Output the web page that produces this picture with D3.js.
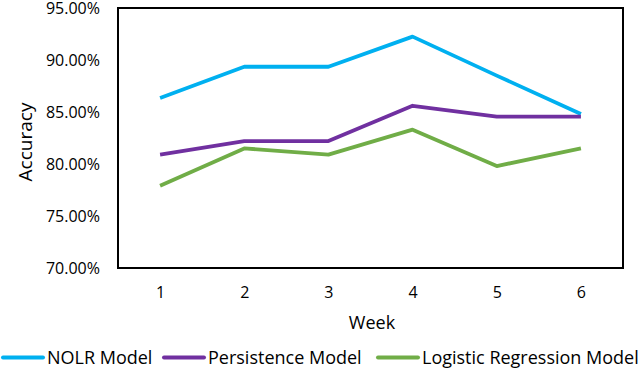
<!DOCTYPE html>
<html><head><meta charset="utf-8">
<script src="https://cdn.jsdelivr.net/npm/d3@7"></script>
<style>body{margin:0;background:#fff}svg{display:block}text{font-family:"Open Sans",sans-serif;fill:#000}</style>
</head><body><svg id="c" width="640" height="369"></svg>
<script>
const weeks = ["1","2","3","4","5","6"];
const nolr = [86.35, 89.35, 89.35, 92.25, 88.5, 84.8];
const persistence = [80.9, 82.2, 82.2, 85.6, 84.55, 84.55];
const logistic = [77.9, 81.5, 80.9, 83.3, 79.8, 81.5];
const yTicks = [70, 75, 80, 85, 90, 95];
const seriesNames = ["NOLR Model", "Persistence Model", "Logistic Regression Model"];
const seriesColors = ["#00B0F0", "#7030A0", "#70AD47"];

const svg = d3.select("#c");
const L = 118, R = 623, T = 8, B = 268;
const x = d3.scalePoint().domain(weeks).range([L, R]).padding(0.5);
const y = d3.scaleLinear().domain([70, 95]).range([B, T]);

svg.append("rect").attr("x", L).attr("y", T).attr("width", R - L).attr("height", B - T)
  .attr("fill", "none").attr("stroke", "#000").attr("stroke-width", 2);

const yAxis = svg.append("g").attr("transform", `translate(${L},0)`)
  .call(d3.axisLeft(y).tickValues(yTicks).tickSize(0).tickPadding(18).tickFormat(d => d.toFixed(2) + "%"));
yAxis.select(".domain").remove();
yAxis.selectAll("text").attr("font-size", 16).style("font-family", '"Open Sans",sans-serif').attr("fill", "#000");

const xAxis = svg.append("g").attr("transform", `translate(0,${B})`)
  .call(d3.axisBottom(x).tickSize(0).tickPadding(19));
xAxis.select(".domain").remove();
xAxis.selectAll("text").attr("font-size", 16).style("font-family", '"Open Sans",sans-serif').attr("fill", "#000");

svg.append("text").attr("x", 372).attr("y", 329).attr("text-anchor", "middle").attr("font-size", 18).text("Week");
svg.append("text").attr("transform", "translate(32,142) rotate(-90)").attr("text-anchor", "middle").attr("font-size", 19).text("Accuracy");

const data = [nolr, persistence, logistic];
const line = d3.line().x((d, i) => x(weeks[i])).y(d => y(d));
data.forEach((s, k) => {
  svg.append("path").attr("d", line(s)).attr("fill", "none").attr("stroke", seriesColors[k])
    .attr("stroke-width", 3.8).attr("stroke-linejoin", "round");
});

const legX = [2, 163, 377];
seriesNames.forEach((n, k) => {
  const g = svg.append("g").attr("transform", `translate(${legX[k]},357.5)`);
  g.append("line").attr("x1", 1).attr("x2", 41).attr("y1", 0).attr("y2", 0)
    .attr("stroke", seriesColors[k]).attr("stroke-width", 4).attr("stroke-linecap", "round");
  g.append("text").attr("x", 45).attr("y", 6).attr("font-size", 18).text(n);
});
</script></body></html>
